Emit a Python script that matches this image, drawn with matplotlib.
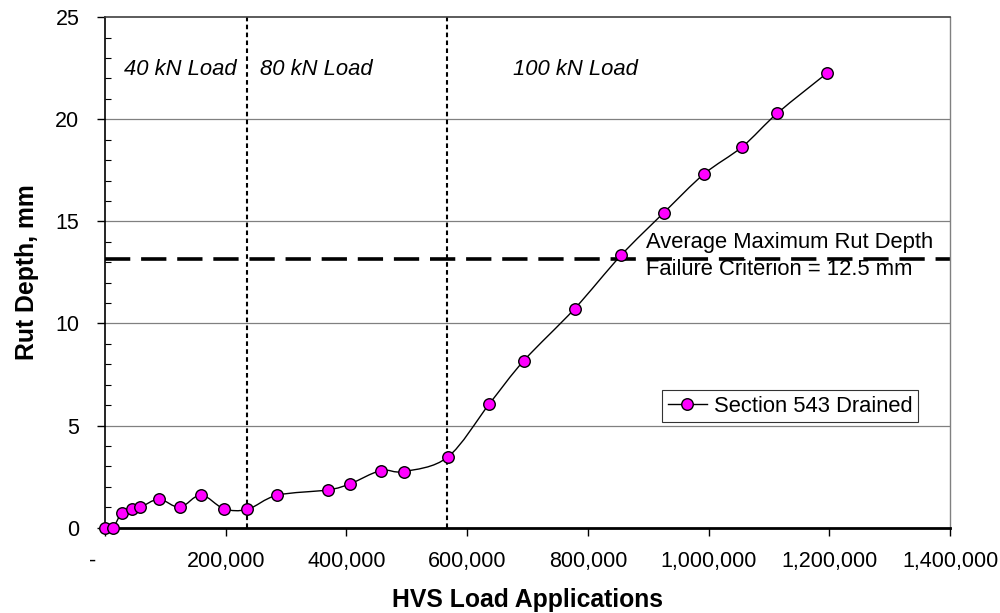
import numpy as np
import matplotlib
matplotlib.use("Agg")
from matplotlib import pyplot as plt
from matplotlib.path import Path
from matplotlib.patches import PathPatch
from matplotlib.ticker import MultipleLocator, FuncFormatter
from matplotlib.lines import Line2D

plt.rcParams["font.family"] = ["Liberation Sans", "DejaVu Sans"]

# ==========================================================
# Dati
# ==========================================================
load_apps = [0, 13000, 28000, 45000, 58500, 89500, 124000, 159000, 197000,
             236000, 285500, 369500, 406000, 457000, 495500, 568000, 637000,
             694000, 778000, 855000, 926000, 992000, 1056000, 1114000, 1197000]
rut_depth = [0.0, 0.0, 0.73, 0.92, 1.0, 1.39, 1.0, 1.6, 0.93,
             0.9, 1.59, 1.85, 2.15, 2.8, 2.75, 3.46, 6.07,
             8.18, 10.72, 13.34, 15.43, 17.31, 18.66, 20.3, 22.28]

load_changes = [236000, 567000]
load_labels = ["40 kN Load", "80 kN Load", "100 kN Load"]
load_label_x = [124000, 350000, 780000]
criterion = 13.14
series_name = "Section 543 Drained"


def smooth_path(x, y):
    # curva tipo "linea smussata" di Excel (Bezier cubiche)
    x = np.asarray(x, float)
    y = np.asarray(y, float)
    px = np.concatenate([[x[0]], x, [x[-1]]])
    py = np.concatenate([[y[0]], y, [y[-1]]])
    verts = [(x[0], y[0])]
    codes = [Path.MOVETO]
    for i in range(1, len(x)):
        c1 = (px[i] + (px[i + 1] - px[i - 1]) / 6, py[i] + (py[i + 1] - py[i - 1]) / 6)
        c2 = (px[i + 1] - (px[i + 2] - px[i]) / 6, py[i + 1] - (py[i + 2] - py[i]) / 6)
        verts += [c1, c2, (x[i], y[i])]
        codes += [Path.CURVE4] * 3
    return Path(verts, codes)


def fmt_x(v, pos):
    # formato contabilità: lo zero diventa un trattino
    if v == 0:
        return "-    "
    return f"{int(v):,}"


fig = plt.figure(figsize=(10, 6.13), dpi=100)
ax = fig.add_axes([0.105, 0.1392, 0.845, 0.8327])

ax.set_xlim(0, 1400000)
ax.set_ylim(0, 25)

# griglia orizzontale
for v in [5, 10, 15, 20]:
    ax.axhline(v, color="#808080", lw=0.9, zorder=0)

# linee di cambio carico
for xc in load_changes:
    ax.axvline(xc, color="black", lw=1.5, dashes=(2.2, 1.6), zorder=1)

# criterio di rottura
ax.axhline(criterion, color="black", lw=2.6, dashes=(7, 3), zorder=2)

ax.add_patch(PathPatch(smooth_path(load_apps, rut_depth), fill=False,
                       edgecolor="black", lw=1.0, zorder=3))
ax.plot(load_apps, rut_depth, ls="none", marker="o", ms=8.3,
        mfc="#FF00FF", mec="black", mew=1.0, zorder=4, clip_on=False)

for lx, lt in zip(load_label_x, load_labels):
    ax.text(lx, 22.45, lt, style="italic", fontsize=15.8, ha="center", va="center")

ax.text(897000, 13.97, "Average Maximum Rut Depth", fontsize=15.8, va="center")
ax.text(897000, 12.62, "Failure Criterion = 12.5 mm", fontsize=15.8, va="center")

handle = Line2D([], [], color="black", lw=1.0, marker="o", ms=8.3,
                mfc="#FF00FF", mec="black", mew=1.0)
leg = ax.legend([handle], [series_name], loc="center right",
                bbox_to_anchor=(0.962, 0.238), fontsize=15.8, frameon=True,
                fancybox=False, edgecolor="black", handlelength=1.8,
                handletextpad=0.3, borderpad=0.25, borderaxespad=0)
leg.get_frame().set_linewidth(0.8)

# assi
ax.yaxis.set_major_locator(MultipleLocator(5))
ax.yaxis.set_minor_locator(MultipleLocator(1))
ax.xaxis.set_major_locator(MultipleLocator(200000))
ax.xaxis.set_major_formatter(FuncFormatter(fmt_x))
ax.tick_params(axis="y", which="major", direction="out", length=6, width=1,
               labelsize=15.5, pad=12.5)
ax.tick_params(axis="y", which="minor", direction="in", length=4, width=0.8)
ax.tick_params(axis="x", which="major", direction="out", length=6, width=1,
               labelsize=15.5, pad=10.5)

ax.spines["left"].set_linewidth(1.2)
ax.spines["bottom"].set_linewidth(2.0)
ax.spines["top"].set_color("#404040")
ax.spines["top"].set_linewidth(1.2)
ax.spines["right"].set_color("#808080")
ax.spines["right"].set_linewidth(1.0)

ax.set_xlabel("HVS Load Applications", fontsize=17.8, fontweight="bold", labelpad=12)
ax.set_ylabel("Rut Depth, mm", fontsize=17.8, fontweight="bold", labelpad=12)

fig.savefig("out.png", dpi=100)
